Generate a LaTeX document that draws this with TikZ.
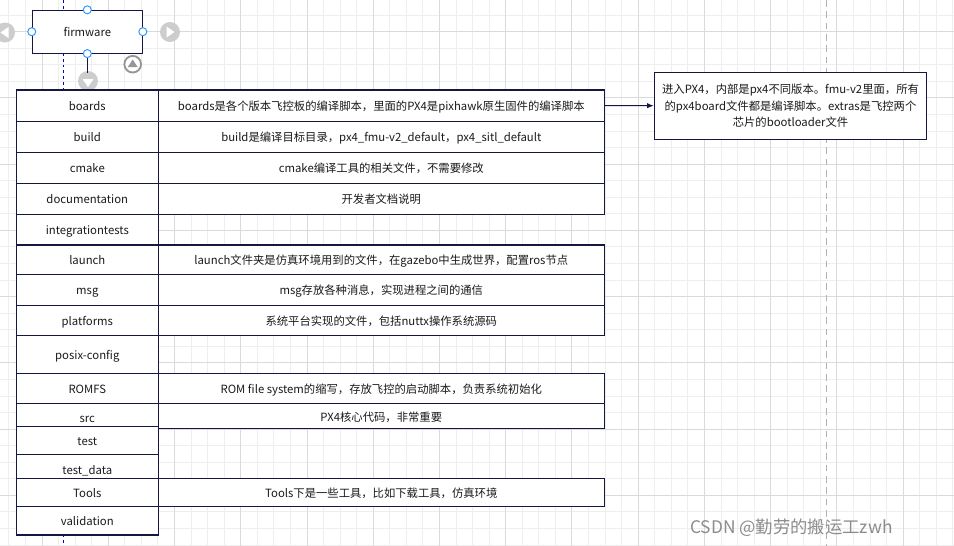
\documentclass[tikz,border=0pt]{standalone}
\usepackage{fontspec}
\setmainfont{Noto Sans CJK SC}
\usetikzlibrary{arrows.meta}
\definecolor{edgec}{RGB}{20,24,64}
\definecolor{gridminor}{RGB}{238,238,238}
\definecolor{gridmajor}{RGB}{218,218,218}
\definecolor{handlec}{RGB}{51,153,255}
\definecolor{hintc}{RGB}{205,205,205}
\definecolor{ringc}{RGB}{150,150,150}
\definecolor{txt}{RGB}{26,26,26}
\newcommand\cellat[6]{\node[cell,minimum width={(#4-(#2))*0.75pt},minimum height={(#5-(#3))*0.75pt}] (#1) at ({(#2+#4)/2},{(#3+#5)/2}) {#6};}
\begin{document}
\begin{tikzpicture}[x=0.75pt,y=-0.75pt,
  cellbase/.style={draw=edgec,fill=white,line width=0.8pt,inner sep=0pt,text=txt,font=\fontsize{8.5pt}{12.4pt}\selectfont,align=center},
  cell/.style={cellbase,text height=7.9pt,text depth=0.2pt},
  minorline/.style={draw=gridminor,line width=0.75pt},
  majorline/.style={draw=gridmajor,line width=0.75pt},
  handle/.style={circle,draw=handlec,fill=white,line width=0.75pt,minimum size=6pt,inner sep=0pt},
  hint/.style={circle,fill=hintc,minimum size=15pt,inner sep=0pt},
  ring/.style={circle,draw=ringc,fill=white,line width=1.4pt,minimum size=12.5pt,inner sep=0pt},
  conn/.style={draw=edgec,line width=0.8pt}]
\useasboundingbox (0,0) rectangle (954,546);
\fill[white] (0,0) rectangle (954,546);
% grid
\foreach \k in {0,...,57}{\pgfmathsetmacro\xx{8.94+16.56*\k}\draw[minorline] (\xx,0) -- (\xx,546);}
\foreach \k in {1,...,33}{\pgfmathsetmacro\yy{-1.42+16.56*\k}\draw[minorline] (0,\yy) -- (954,\yy);}
\foreach \k in {0,...,14}{\pgfmathsetmacro\xx{42.06+66.24*\k}\draw[majorline] (\xx,0) -- (\xx,546);}
\foreach \k in {0,...,7}{\pgfmathsetmacro\yy{31.7+66.24*\k}\draw[majorline] (0,\yy) -- (954,\yy);}
% page break guides
\draw[draw=blue!80!black,line width=0.75pt,dash pattern=on 2.2pt off 2.2pt] (63.3,0) -- (63.3,546);
\draw[draw=black!30,line width=0.75pt,dash pattern=on 5pt off 3.5pt] (826.7,0) -- (826.7,546);
% firmware element with hover hints
\node[hint] (hl) at (5,32.5) {};
\fill[white] (0.5,32.5) -- (8.5,27) -- (8.5,38) -- cycle;
\node[hint] (hr) at (170,32) {};
\fill[white] (174.5,32) -- (166.5,26.5) -- (166.5,37.5) -- cycle;
\node[cell,minimum width={110*0.75pt},minimum height={42.7*0.75pt}] (fw) at (87.3,31.7) {firmware};
\node[hint] (hd) at (88,81) {};
\draw[conn] (fw.south) -- (87.3,73);
\fill[white] (88,87) -- (82.5,79) -- (93.5,79) -- cycle;
\node[ring] (hu) at (132.7,64.2) {};
\fill[ringc] (132.7,59.5) -- (127.8,67) -- (137.6,67) -- cycle;
\node[handle] (ht) at (fw.north) {};
\node[handle] (hw) at (fw.west) {};
\node[handle] (he) at (fw.east) {};
\node[handle] (hs) at (fw.south) {};
% description cells
\cellat{boardsd}{158.3}{90}{604.3}{121.3}{boards是各个版本飞控板的编译脚本，里面的PX4是pixhawk原生固件的编译脚本}
\cellat{buildd}{158.3}{121.3}{604.3}{152.3}{build是编译目标目录，px4\_fmu-v2\_default，px4\_sitl\_default}
\cellat{cmaked}{158.3}{152.3}{604.3}{183.3}{cmake编译工具的相关文件，不需要修改}
\cellat{docd}{158.3}{183.3}{604.3}{214.3}{开发者文档说明}
\cellat{launchd}{158.3}{245}{604.3}{274.3}{launch文件夹是仿真环境用到的文件，在gazebo中生成世界，配置ros节点}
\cellat{msgd}{158.3}{274.3}{604.3}{305.3}{msg存放各种消息，实现进程之间的通信}
\cellat{platd}{158.3}{305.3}{604.3}{335.3}{系统平台实现的文件，包括nuttx操作系统源码}
\cellat{romd}{158.3}{373.3}{604.3}{403.7}{ROM file system的缩写，存放飞控的启动脚本，负责系统初始化}
\cellat{srcd}{158.3}{403.7}{604.3}{428.3}{PX4核心代码，非常重要}
\cellat{toolsd}{158.3}{478.3}{604.3}{506.3}{Tools下是一些工具，比如下载工具，仿真环境}
% name cells
\cellat{boards}{16.3}{90}{158.3}{121.3}{boards}
\cellat{build}{16.3}{121.3}{158.3}{152.3}{build}
\cellat{cmake}{16.3}{152.3}{158.3}{183.3}{cmake}
\cellat{doc}{16.3}{183.3}{158.3}{214.3}{documentation}
\cellat{integ}{16.3}{214.3}{158.3}{245}{integrationtests}
\cellat{launch}{16.3}{245}{158.3}{274.3}{launch}
\cellat{msg}{16.3}{274.3}{158.3}{305.3}{msg}
\cellat{plat}{16.3}{305.3}{158.3}{335.3}{platforms}
\cellat{posix}{16.3}{335.3}{158.3}{373.3}{posix-config}
\cellat{romfs}{16.3}{373.3}{158.3}{403.3}{ROMFS}
\cellat{src}{16.3}{403.3}{158.3}{426.3}{\raisebox{-1.9pt}{src}}
\cellat{test}{16.3}{426.3}{158.3}{454.3}{test}
\cellat{testdata}{16.3}{454.3}{158.3}{478.3}{\raisebox{-2pt}{test\_data}}
\cellat{tools}{16.3}{478.3}{158.3}{506.3}{Tools}
\cellat{valid}{16.3}{506.3}{158.3}{535}{validation}
% note box
\node[cellbase,minimum width={272.4*0.75pt},minimum height={66.7*0.75pt}] (note) at (790.5,105.7)
  {\raisebox{-0.8pt}{进入PX4，内部是px4不同版本。fmu-v2里面，所有}\\\raisebox{-0.8pt}{的px4board文件都是编译脚本。extras是飞控两个}\\\raisebox{-0.8pt}{芯片的bootloader文件}};
\draw[conn,-{Latex[length=5pt,width=4pt]}] (boardsd.east) -- (note.west);
% watermark
\node[anchor=west,inner sep=0pt,text=black!45,font=\fontsize{13pt}{13pt}\selectfont] (wm) at (690,527.7) {CSDN @勤劳的搬运工zwh};
\end{tikzpicture}
\end{document}
